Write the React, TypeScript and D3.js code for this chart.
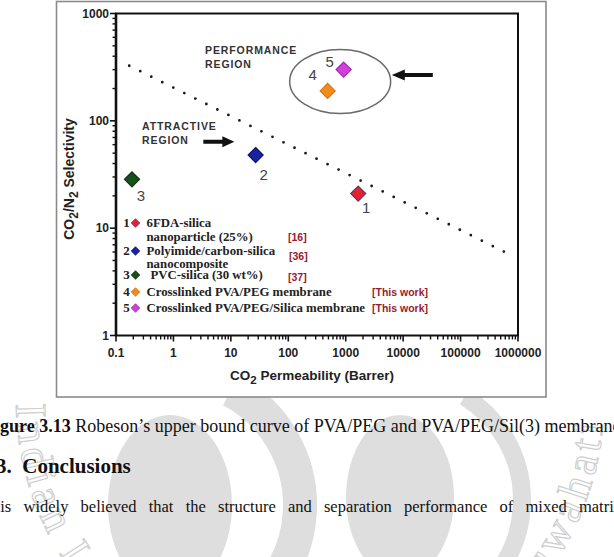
import React from 'react';
import * as d3 from 'd3';

const W = 614;
const H = 557;

// Axis domains and tick labels
const xDomain = [0.1, 1e6];
const yDomain = [1, 1000];
const xTickValues = [0.1, 1, 10, 100, 1000, 10000, 100000, 1000000];
const xTickLabels = ['0.1', '1', '10', '100', '1000', '10000', '100000', '1000000'];
const yTickValues = [1, 10, 100, 1000];
const yTickLabels = ['1', '10', '100', '1000'];

// Membrane data points: CO2 permeability (Barrer) vs CO2/N2 selectivity
const pointIds = ['1', '2', '3', '4', '5'];
const permeability = [1650, 27, 0.19, 485, 920];
const selectivity = [21, 48, 28.5, 190, 300];
const pointFill = ['#e5232d', '#1b22a0', '#17501b', '#f28a1e', '#d33fdc'];
const pointStroke = ['#7b2a6a', '#10166e', '#0c300f', '#d87412', '#a02aa8'];

// Robeson upper bound (straight line in log-log space)
const boundPermeability = [0.17, 870000];
const boundSelectivity = [326, 5.4];

// Legend entries
const legendNames = [
  ['6FDA-silica', 'nanoparticle (25%)'],
  ['Polyimide/carbon-silica', 'nanocomposite'],
  ['PVC-silica (30 wt%)'],
  ['Crosslinked PVA/PEG membrane'],
  ['Crosslinked PVA/PEG/Silica membrane'],
];
const legendRefs = ['[16]', '[36]', '[37]', '[This work]', '[This work]'];

// Annotation anchors in data space
const ellipseCenter = [800, 233];
const perfArrowTip = [6350, 267];
const attrArrowTip = [11.5, 63.7];

// Page text below the figure
const captionBold = 'Figure 3.13';
const captionRest = ' Robeson\u2019s upper bound curve of PVA/PEG and PVA/PEG/Sil(3) membranes';
const headingText = '3.  Conclusions';
const paragraphWords = ['It', 'is', 'widely', 'believed', 'that', 'the', 'structure', 'and', 'separation', 'performance', 'of', 'mixed', 'matrix'];
const sealText = 'Indian Institute of Technology Guwahati';

// Layout
const plot = { left: 116, right: 518, top: 13.5, bottom: 335.5 };
const labelOffsets = [[8, 14], [8, 19], [9, 16], [-15, -16], [-14, -8]];
const legendLineY = [[227, 241], [255, 268], [279], [296], [312]];
const legendIndent = [0, 0, 4, 0, 0];
const legendRefPos = [[288, 241], [289, 260], [288, 281], [372, 295.5], [372, 311.5]];
const paraStart = -22;
const paraEnd = 622;
const paraSize = 16.5;

const sans = 'Arial, "Liberation Sans", Helvetica, sans-serif';
const serif = '"Liberation Serif", "Times New Roman", serif';

function Diamond({ cx, cy, r, fill, stroke, sw = 1 }) {
  const d = `M${cx},${cy - r}L${cx + r},${cy}L${cx},${cy + r}L${cx - r},${cy}Z`;
  return <path d={d} fill={fill} stroke={stroke} strokeWidth={sw} />;
}

// Justified word positions for one line of body text
function justify(words, size, x0, x1) {
  let widths = words.map((w) => w.length * size * 0.45);
  try {
    const ctx = document.createElement('canvas').getContext('2d');
    if (ctx) {
      ctx.font = `${size}px "Liberation Serif", "Times New Roman", serif`;
      widths = words.map((w) => ctx.measureText(w).width);
    }
  } catch (e) {
    /* keep estimate */
  }
  const total = widths.reduce((a, b) => a + b, 0);
  const gap = (x1 - x0 - total) / (words.length - 1);
  const xs = [];
  let cur = x0;
  widths.forEach((w) => {
    xs.push(cur);
    cur += w + gap;
  });
  return xs;
}

export default function App() {
  const x = d3.scaleLog().domain(xDomain).range([plot.left, plot.right]);
  const y = d3.scaleLog().domain(yDomain).range([plot.bottom, plot.top]);

  const isMajor = (v, list) => list.some((t) => Math.abs(Math.log10(v) - Math.log10(t)) < 1e-6);
  const xMinor = x.ticks().filter((v) => !isMajor(v, xTickValues));
  const yMinor = y.ticks().filter((v) => !isMajor(v, yTickValues));

  const boundPts = boundPermeability.map((p, i) => [x(p), y(boundSelectivity[i])]);
  const boundPath = d3.line()(boundPts);

  const ex = x(ellipseCenter[0]);
  const ey = y(ellipseCenter[1]);
  const pax = x(perfArrowTip[0]);
  const pay = y(perfArrowTip[1]);
  const aax = x(attrArrowTip[0]);
  const aay = y(attrArrowTip[1]);

  const paraX = justify(paragraphWords, paraSize, paraStart, paraEnd);

  // Seal watermark geometry
  const sc = [310, 400];
  const sr = 294;
  const sealPath = `M${sc[0] - sr},${sc[1]} A${sr},${sr} 0 0 0 ${sc[0] + sr},${sc[1]}`;
  const arc = (cx, cy, r, a0, a1) => {
    const p0 = [cx + r * Math.cos(a0), cy + r * Math.sin(a0)];
    const p1 = [cx + r * Math.cos(a1), cy + r * Math.sin(a1)];
    return `M${p0[0]},${p0[1]} A${r},${r} 0 0 1 ${p1[0]},${p1[1]}`;
  };
  const deg = Math.PI / 180;

  return (
    <svg width={W} height={H} style={{ position: 'absolute', left: 0, top: 0, background: '#fff' }}>
      <rect x={0} y={0} width={W} height={H} fill="#fff" />

      {/* watermark emblem */}
      <g fill="#dedede" stroke="none">
        <ellipse cx={170} cy={505} rx={62} ry={90} />
        <path d={arc(170, 505, 130, -62 * deg, 70 * deg)} fill="none" stroke="#dedede" strokeWidth={34} />
        <ellipse cx={400} cy={497} rx={54} ry={82} />
        <path d={arc(400, 500, 122, -58 * deg, 62 * deg)} fill="none" stroke="#dedede" strokeWidth={18} />
      </g>
      <defs>
        <path id="sealArc" d={sealPath} />
      </defs>
      <text fontFamily={serif} fontSize={44} fill="none" stroke="#cfcfcf" strokeWidth={1.2}>
        <textPath href="#sealArc" startOffset={4} textLength={895} lengthAdjust="spacing">
          {sealText}
        </textPath>
      </text>

      {/* figure box */}
      <rect x={56.5} y={1.5} width={489.5} height={395.5} fill="#fff" stroke="#8a8a8a" strokeWidth={1.6} />

      {/* plot frame */}
      <rect x={plot.left} y={plot.top} width={plot.right - plot.left} height={plot.bottom - plot.top} fill="none" stroke="#111" strokeWidth={2} />
      <line x1={plot.left} x2={plot.left} y1={plot.top} y2={plot.bottom} stroke="#111" strokeWidth={2.6} />

      {/* y ticks */}
      {yTickValues.map((v, i) => (
        <g key={'yt' + i}>
          <line x1={plot.left - 6} x2={plot.left} y1={y(v)} y2={y(v)} stroke="#111" strokeWidth={1.6} />
          <text x={plot.left - 7} y={y(v) + 4} textAnchor="end" fontFamily={sans} fontWeight="bold" fontSize={12} fill="#222">
            {yTickLabels[i]}
          </text>
        </g>
      ))}
      {yMinor.map((v, i) => (
        <line key={'ym' + i} x1={plot.left - 3.5} x2={plot.left} y1={y(v)} y2={y(v)} stroke="#111" strokeWidth={1.4} />
      ))}

      {/* x ticks */}
      {xTickValues.map((v, i) => (
        <g key={'xt' + i}>
          <line x1={x(v)} x2={x(v)} y1={plot.bottom} y2={plot.bottom + 6} stroke="#111" strokeWidth={1.6} />
          <text x={x(v)} y={356.5} textAnchor="middle" fontFamily={sans} fontWeight="bold" fontSize={12} fill="#222">
            {xTickLabels[i]}
          </text>
        </g>
      ))}
      {xMinor.map((v, i) => (
        <line key={'xm' + i} x1={x(v)} x2={x(v)} y1={plot.bottom} y2={plot.bottom + 4} stroke="#111" strokeWidth={1.4} />
      ))}

      {/* axis titles */}
      <text x={312} y={380} textAnchor="middle" fontFamily={sans} fontWeight="bold" fontSize={13.5} fill="#222">
        CO<tspan fontSize={11.5} dy={4}>2</tspan>
        <tspan dy={-4}> Permeability  (Barrer)</tspan>
      </text>
      <text transform="translate(74,179) rotate(-90)" textAnchor="middle" fontFamily={sans} fontWeight="bold" fontSize={14} fill="#222">
        CO<tspan fontSize={12} dy={4}>2</tspan>
        <tspan dy={-4}>/N</tspan>
        <tspan fontSize={12} dy={4}>2</tspan>
        <tspan dy={-4}> Selectivity</tspan>
      </text>

      {/* upper bound */}
      <path d={boundPath} fill="none" stroke="#1a1a1a" strokeWidth={2.8} strokeLinecap="round" strokeDasharray="0 12.3" />

      {/* performance region */}
      <ellipse cx={ex} cy={ey} rx={50.5} ry={32} fill="none" stroke="#6a6a6a" strokeWidth={1.5} />
      <text x={205} y={54} fontFamily={sans} fontWeight="900" fontSize={10.5} letterSpacing={0.9} fill="#333">PERFORMANCE</text>
      <text x={205} y={68} fontFamily={sans} fontWeight="900" fontSize={10.5} letterSpacing={0.9} fill="#333">REGION</text>
      <path
        d={`M${pax},${pay} L${pax + 13},${pay - 5.5} L${pax + 13},${pay - 2} L${pax + 41},${pay - 2} L${pax + 41},${pay + 2} L${pax + 13},${pay + 2} L${pax + 13},${pay + 5.5} Z`}
        fill="#111"
      />

      {/* attractive region */}
      <text x={142} y={130} fontFamily={sans} fontWeight="900" fontSize={10.5} letterSpacing={0.9} fill="#333">ATTRACTIVE</text>
      <text x={142} y={144} fontFamily={sans} fontWeight="900" fontSize={10.5} letterSpacing={0.9} fill="#333">REGION</text>
      <path
        d={`M${aax},${aay} L${aax - 12},${aay - 5.5} L${aax - 12},${aay - 2} L${aax - 31},${aay - 2} L${aax - 31},${aay + 2} L${aax - 12},${aay + 2} L${aax - 12},${aay + 5.5} Z`}
        fill="#111"
      />

      {/* data points */}
      {pointIds.map((id, i) => {
        const cx = x(permeability[i]);
        const cy = y(selectivity[i]);
        return (
          <g key={'p' + id}>
            <Diamond cx={cx} cy={cy} r={7.5} fill={pointFill[i]} stroke={pointStroke[i]} sw={1.2} />
            <text x={cx + labelOffsets[i][0]} y={cy + labelOffsets[i][1] + 5.5} textAnchor="middle" fontFamily={sans} fontSize={15} fill="#444">
              {id}
            </text>
          </g>
        );
      })}

      {/* legend */}
      {legendNames.map((lines, i) => (
        <g key={'lg' + i}>
          <text x={126.5} y={legendLineY[i][0]} textAnchor="middle" fontFamily={serif} fontWeight="bold" fontSize={13} fill="#222">
            {pointIds[i]}
          </text>
          <Diamond cx={135.5} cy={legendLineY[i][0] - 4} r={4.3} fill={pointFill[i]} stroke={pointStroke[i]} sw={0.8} />
          {lines.map((t, j) => (
            <text key={j} x={146.5 + legendIndent[i]} y={legendLineY[i][j]} fontFamily={serif} fontWeight="bold" fontSize={12.8} fill="#222">
              {t}
            </text>
          ))}
          <text x={legendRefPos[i][0]} y={legendRefPos[i][1]} fontFamily={sans} fontWeight="bold" fontSize={10.5} fill="#9a1a2e">
            {legendRefs[i]}
          </text>
        </g>
      ))}

      {/* caption and body text */}
      <text x={-16} y={432} fontFamily={serif} fontSize={18} fill="#111">
        <tspan fontWeight="bold">{captionBold}</tspan>
        <tspan>{captionRest}</tspan>
      </text>
      <text x={-4} y={473} fontFamily={serif} fontWeight="bold" fontSize={21} fill="#111" style={{ whiteSpace: 'pre' }}>
        {headingText}
      </text>
      {paragraphWords.map((w, i) => (
        <text key={'w' + i} x={paraX[i]} y={512} fontFamily={serif} fontSize={paraSize} fill="#111">
          {w}
        </text>
      ))}
    </svg>
  );
}
